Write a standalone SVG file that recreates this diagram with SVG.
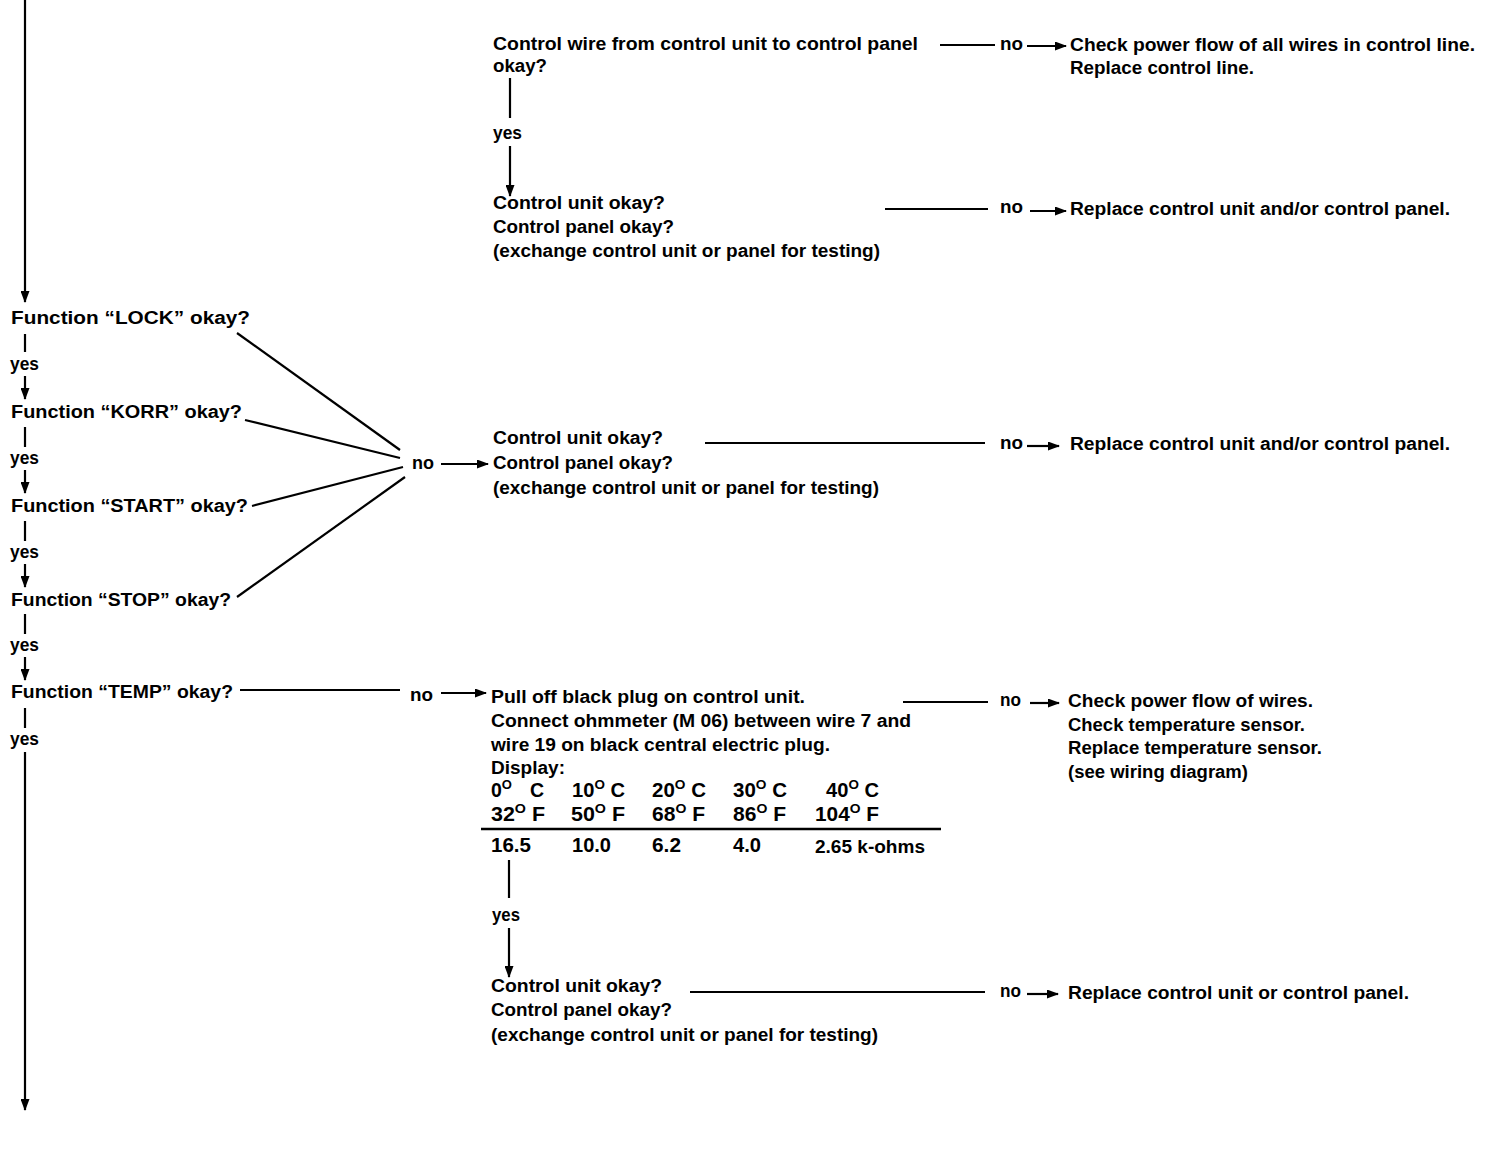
<svg xmlns="http://www.w3.org/2000/svg" width="1494" height="1152" viewBox="0 0 1494 1152">
<defs>
<style>
text{font-family:"Liberation Sans",Arial,sans-serif;font-weight:bold;font-size:18px;fill:#000}
.tb{font-size:19.5px}
.sup{font-size:13px}
line{stroke:#000;stroke-width:2.2;fill:none}
.thick{stroke-width:2.5}
</style>
<marker id="ah" markerUnits="userSpaceOnUse" markerWidth="12" markerHeight="9" refX="11" refY="4.5" orient="auto">
<path d="M0,0 L12,4.5 L0,9 z" fill="#000"/>
</marker>
</defs>
<rect width="1494" height="1152" fill="#fff"/>

<g id="connectors">
<line x1="25" y1="0" x2="25" y2="302" marker-end="url(#ah)"/>
<line x1="25" y1="334" x2="25" y2="352"/>
<line x1="25" y1="376" x2="25" y2="399" marker-end="url(#ah)"/>
<line x1="25" y1="427" x2="25" y2="447"/>
<line x1="25" y1="470" x2="25" y2="493" marker-end="url(#ah)"/>
<line x1="25" y1="521" x2="25" y2="541"/>
<line x1="25" y1="564" x2="25" y2="587" marker-end="url(#ah)"/>
<line x1="25" y1="614" x2="25" y2="634"/>
<line x1="25" y1="657" x2="25" y2="680" marker-end="url(#ah)"/>
<line x1="25" y1="708" x2="25" y2="728"/>
<line x1="25" y1="752" x2="25" y2="1110" marker-end="url(#ah)"/>
<line x1="940" y1="45" x2="995" y2="45"/>
<line x1="1027" y1="46" x2="1066" y2="46" marker-end="url(#ah)"/>
<line x1="510" y1="78" x2="510" y2="118"/>
<line x1="510" y1="146" x2="510" y2="196" marker-end="url(#ah)"/>
<line x1="885" y1="209" x2="988" y2="209"/>
<line x1="1030" y1="211" x2="1066" y2="211" marker-end="url(#ah)"/>
<line x1="237" y1="333" x2="400" y2="450"/>
<line x1="245" y1="420" x2="400" y2="458"/>
<line x1="252" y1="506" x2="403" y2="467"/>
<line x1="237" y1="597" x2="405" y2="477"/>
<line x1="441" y1="464" x2="488" y2="464" marker-end="url(#ah)"/>
<line x1="705" y1="443" x2="985" y2="443"/>
<line x1="1027" y1="446" x2="1059" y2="446" marker-end="url(#ah)"/>
<line x1="240" y1="690" x2="400" y2="690"/>
<line x1="441" y1="693" x2="486" y2="693" marker-end="url(#ah)"/>
<line x1="903" y1="702" x2="988" y2="702"/>
<line x1="1030" y1="703" x2="1059" y2="703" marker-end="url(#ah)"/>
<line class="thick" x1="481" y1="829" x2="941" y2="829"/>
<line x1="509" y1="860" x2="509" y2="898"/>
<line x1="509" y1="928" x2="509" y2="977" marker-end="url(#ah)"/>
<line x1="690" y1="992" x2="985" y2="992"/>
<line x1="1027" y1="994" x2="1058" y2="994" marker-end="url(#ah)"/>
</g>

<g id="n-wire">
<text x="493" y="50" textLength="425" lengthAdjust="spacingAndGlyphs">Control wire from control unit to control panel</text>
<text x="493" y="72" textLength="54" lengthAdjust="spacingAndGlyphs">okay?</text>
</g>
<g id="l-no1"><text x="1000" y="50" textLength="23" lengthAdjust="spacingAndGlyphs">no</text></g>
<g id="n-checkpower">
<text x="1070" y="51" textLength="405" lengthAdjust="spacingAndGlyphs">Check power flow of all wires in control line.</text>
<text x="1070" y="74" textLength="184" lengthAdjust="spacingAndGlyphs">Replace control line.</text>
</g>
<g id="l-yes1"><text x="493" y="139" textLength="29" lengthAdjust="spacingAndGlyphs">yes</text></g>
<g id="n-cu1">
<text x="493" y="209" textLength="172" lengthAdjust="spacingAndGlyphs">Control unit okay?</text>
<text x="493" y="233" textLength="181" lengthAdjust="spacingAndGlyphs">Control panel okay?</text>
<text x="493" y="257" textLength="387" lengthAdjust="spacingAndGlyphs">(exchange control unit or panel for testing)</text>
</g>
<g id="l-no2"><text x="1000" y="213" textLength="23" lengthAdjust="spacingAndGlyphs">no</text></g>
<g id="n-replace1"><text x="1070" y="215" textLength="380" lengthAdjust="spacingAndGlyphs">Replace control unit and/or control panel.</text></g>

<g id="n-lock"><text x="11" y="324" textLength="239" lengthAdjust="spacingAndGlyphs">Function “LOCK” okay?</text></g>
<g id="l-yes-a"><text x="10" y="370" textLength="29" lengthAdjust="spacingAndGlyphs">yes</text></g>
<g id="n-korr"><text x="11" y="418" textLength="231" lengthAdjust="spacingAndGlyphs">Function “KORR” okay?</text></g>
<g id="l-yes-b"><text x="10" y="464" textLength="29" lengthAdjust="spacingAndGlyphs">yes</text></g>
<g id="n-start"><text x="11" y="512" textLength="237" lengthAdjust="spacingAndGlyphs">Function “START” okay?</text></g>
<g id="l-yes-c"><text x="10" y="558" textLength="29" lengthAdjust="spacingAndGlyphs">yes</text></g>
<g id="n-stop"><text x="11" y="606" textLength="220" lengthAdjust="spacingAndGlyphs">Function “STOP” okay?</text></g>
<g id="l-yes-d"><text x="10" y="651" textLength="29" lengthAdjust="spacingAndGlyphs">yes</text></g>
<g id="n-temp"><text x="11" y="698" textLength="222" lengthAdjust="spacingAndGlyphs">Function “TEMP” okay?</text></g>
<g id="l-yes-e"><text x="10" y="745" textLength="29" lengthAdjust="spacingAndGlyphs">yes</text></g>

<g id="l-no3"><text x="412" y="469" textLength="22" lengthAdjust="spacingAndGlyphs">no</text></g>
<g id="n-cu2">
<text x="493" y="444" textLength="170" lengthAdjust="spacingAndGlyphs">Control unit okay?</text>
<text x="493" y="469" textLength="180" lengthAdjust="spacingAndGlyphs">Control panel okay?</text>
<text x="493" y="494" textLength="386" lengthAdjust="spacingAndGlyphs">(exchange control unit or panel for testing)</text>
</g>
<g id="l-no4"><text x="1000" y="449" textLength="23" lengthAdjust="spacingAndGlyphs">no</text></g>
<g id="n-replace2"><text x="1070" y="450" textLength="380" lengthAdjust="spacingAndGlyphs">Replace control unit and/or control panel.</text></g>

<g id="l-no5"><text x="410" y="701" textLength="23" lengthAdjust="spacingAndGlyphs">no</text></g>
<g id="n-plug">
<text x="491" y="703" textLength="314" lengthAdjust="spacingAndGlyphs">Pull off black plug on control unit.</text>
<text x="491" y="727" textLength="420" lengthAdjust="spacingAndGlyphs">Connect ohmmeter (M 06) between wire 7 and</text>
<text x="491" y="751" textLength="339" lengthAdjust="spacingAndGlyphs">wire 19 on black central electric plug.</text>
<text x="491" y="774" textLength="74" lengthAdjust="spacingAndGlyphs">Display:</text>
<text class="tb" x="491" y="797">0<tspan class="sup" dy="-8">O</tspan></text>
<text class="tb" x="530" y="797">C</text>
<text class="tb" x="572" y="797" textLength="53" lengthAdjust="spacingAndGlyphs">10<tspan class="sup" dy="-8">O</tspan><tspan dy="8"> C</tspan></text>
<text class="tb" x="652" y="797" textLength="54" lengthAdjust="spacingAndGlyphs">20<tspan class="sup" dy="-8">O</tspan><tspan dy="8"> C</tspan></text>
<text class="tb" x="733" y="797" textLength="54" lengthAdjust="spacingAndGlyphs">30<tspan class="sup" dy="-8">O</tspan><tspan dy="8"> C</tspan></text>
<text class="tb" x="826" y="797" textLength="53" lengthAdjust="spacingAndGlyphs">40<tspan class="sup" dy="-8">O</tspan><tspan dy="8"> C</tspan></text>
<text class="tb" x="491" y="821" textLength="54" lengthAdjust="spacingAndGlyphs">32<tspan class="sup" dy="-8">O</tspan><tspan dy="8"> F</tspan></text>
<text class="tb" x="571" y="821" textLength="54" lengthAdjust="spacingAndGlyphs">50<tspan class="sup" dy="-8">O</tspan><tspan dy="8"> F</tspan></text>
<text class="tb" x="652" y="821" textLength="53" lengthAdjust="spacingAndGlyphs">68<tspan class="sup" dy="-8">O</tspan><tspan dy="8"> F</tspan></text>
<text class="tb" x="733" y="821" textLength="53" lengthAdjust="spacingAndGlyphs">86<tspan class="sup" dy="-8">O</tspan><tspan dy="8"> F</tspan></text>
<text class="tb" x="815" y="821" textLength="64" lengthAdjust="spacingAndGlyphs">104<tspan class="sup" dy="-8">O</tspan><tspan dy="8"> F</tspan></text>
<text class="tb" x="491" y="852" textLength="40" lengthAdjust="spacingAndGlyphs">16.5</text>
<text class="tb" x="572" y="852" textLength="39" lengthAdjust="spacingAndGlyphs">10.0</text>
<text class="tb" x="652" y="852" textLength="29" lengthAdjust="spacingAndGlyphs">6.2</text>
<text class="tb" x="733" y="852" textLength="28" lengthAdjust="spacingAndGlyphs">4.0</text>
<text x="815" y="853" textLength="110" lengthAdjust="spacingAndGlyphs">2.65 k-ohms</text>
</g>
<g id="l-no6"><text x="1000" y="706" textLength="21" lengthAdjust="spacingAndGlyphs">no</text></g>
<g id="n-checksensor">
<text x="1068" y="707" textLength="245" lengthAdjust="spacingAndGlyphs">Check power flow of wires.</text>
<text x="1068" y="731" textLength="237" lengthAdjust="spacingAndGlyphs">Check temperature sensor.</text>
<text x="1068" y="754" textLength="254" lengthAdjust="spacingAndGlyphs">Replace temperature sensor.</text>
<text x="1068" y="778" textLength="180" lengthAdjust="spacingAndGlyphs">(see wiring diagram)</text>
</g>
<g id="l-yes2"><text x="492" y="921" textLength="28" lengthAdjust="spacingAndGlyphs">yes</text></g>
<g id="n-cu3">
<text x="491" y="992" textLength="171" lengthAdjust="spacingAndGlyphs">Control unit okay?</text>
<text x="491" y="1016" textLength="181" lengthAdjust="spacingAndGlyphs">Control panel okay?</text>
<text x="491" y="1041" textLength="387" lengthAdjust="spacingAndGlyphs">(exchange control unit or panel for testing)</text>
</g>
<g id="l-no7"><text x="1000" y="997" textLength="21" lengthAdjust="spacingAndGlyphs">no</text></g>
<g id="n-replace3"><text x="1068" y="999" textLength="341" lengthAdjust="spacingAndGlyphs">Replace control unit or control panel.</text></g>
</svg>
